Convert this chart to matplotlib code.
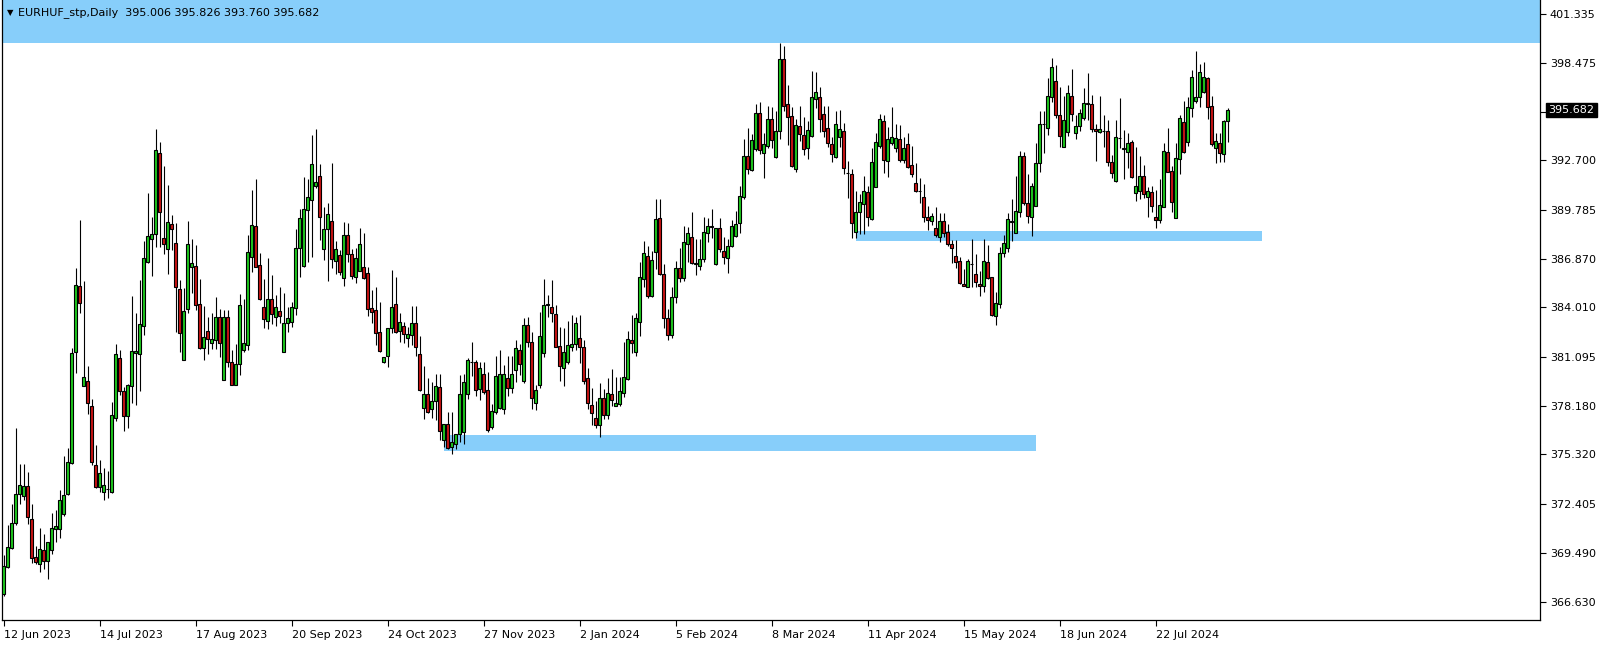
import numpy as np
import pandas as pd
import matplotlib
matplotlib.use("Agg")
import matplotlib.pyplot as plt
from matplotlib.patches import Rectangle

# ---------------- data ----------------
opens = [367.05,368.65,369.77,371.25,372.96,372.86,373.43,371.50,369.26,368.82,369.67,369.04,369.65,370.91,370.89,371.78,372.96,374.79,381.39,385.27,
379.38,379.66,378.18,374.69,373.41,373.12,373.26,373.08,377.45,381.00,379.09,377.60,379.39,381.30,381.24,382.92,386.72,388.04,388.33,393.12,
388.10,387.45,388.92,387.80,385.08,380.91,383.90,386.38,386.46,384.19,381.60,382.62,381.89,382.09,383.46,379.72,383.42,380.81,379.43,380.64,
381.50,381.79,386.97,388.83,386.52,384.02,383.23,384.49,383.47,383.82,381.40,383.07,383.13,383.96,387.51,386.48,389.77,390.36,391.19,391.80,
387.45,388.63,389.12,386.78,387.11,385.77,388.29,387.15,385.83,386.18,386.42,386.03,383.96,383.86,382.54,380.77,381.14,382.78,384.19,382.62,
382.93,382.19,382.38,383.07,381.24,378.05,378.90,377.99,378.48,379.29,376.18,377.12,375.78,375.92,376.51,376.67,378.87,380.79,380.76,379.17,
380.05,379.13,376.92,377.85,378.05,377.99,379.82,379.23,380.31,381.49,379.66,382.97,381.99,378.34,379.42,381.29,384.18,384.05,383.60,381.73,
380.41,380.80,381.69,381.83,382.18,381.65,379.82,378.24,377.45,377.06,378.64,377.65,378.87,378.20,378.28,378.93,379.76,382.08,381.39,383.17,
385.67,387.07,384.70,387.26,389.27,385.96,383.36,382.40,384.60,386.33,385.73,387.76,388.16,386.56,386.48,386.86,388.39,388.78,386.56,388.69,
387.37,386.95,387.66,388.26,388.98,390.52,392.96,392.13,393.38,395.49,393.12,393.55,395.13,392.89,394.46,398.69,396.01,395.33,392.19,394.73,
394.20,393.45,394.16,396.33,396.47,395.42,394.60,393.65,392.89,394.10,394.44,391.96,391.88,388.49,389.67,390.10,390.81,389.24,391.11,393.57,
395.05,392.68,393.75,393.41,393.95,392.72,393.65,392.43,391.34,390.88,390.56,389.37,389.14,388.69,388.15,389.12,388.45,387.76,387.05,386.75,
385.39,385.24,386.57,385.99,385.39,385.30,386.68,385.79,383.50,384.20,387.20,387.50,389.07,388.43,389.67,392.96,390.16,389.34,390.03,392.53,
394.84,394.60,396.43,397.39,395.38,393.51,394.40,396.51,394.30,394.75,395.22,396.06,396.01,394.54,394.40,394.43,394.44,392.59,391.48,394.03,
393.40,393.18,393.77,390.76,390.90,391.78,390.56,390.85,389.34,389.18,389.97,393.18,392.07,389.32,392.77,394.99,393.81,395.82,396.23,396.47,
396.72,397.55,395.91,393.45,393.71,393.06,395.006]
highs = [369.38,371.15,372.39,376.90,374.75,374.75,374.30,372.41,369.91,370.95,370.60,370.12,371.84,372.03,373.20,375.23,375.72,381.63,386.36,389.17,
385.57,380.55,378.58,375.88,374.99,374.50,374.34,378.40,381.85,381.50,379.30,379.47,384.71,383.66,385.63,387.94,390.80,389.38,394.56,393.77,
392.37,391.25,389.48,388.98,385.63,385.18,389.12,388.06,387.70,385.69,384.10,383.47,383.66,384.61,383.90,383.86,383.86,381.50,381.85,384.81,
384.51,388.29,390.95,391.58,387.21,385.67,386.91,385.93,384.75,385.20,384.85,384.02,384.31,388.65,389.81,391.74,391.58,394.20,394.54,392.47,
389.97,390.16,392.57,387.94,387.41,389.04,388.98,387.47,387.50,388.69,388.39,386.38,385.04,385.20,384.31,381.06,382.78,386.22,385.83,383.66,
383.17,382.87,384.12,384.12,382.32,380.55,379.82,379.58,380.06,380.06,377.10,377.85,377.81,376.51,380.01,380.07,381.00,381.98,380.90,380.80,
380.80,380.21,378.28,381.14,381.49,380.61,381.14,381.14,382.08,381.83,383.36,383.46,382.58,379.42,383.72,385.67,384.74,385.63,384.15,382.87,
382.81,383.21,383.56,383.46,383.56,382.08,380.41,379.23,378.50,379.52,379.17,379.82,380.35,379.88,379.92,381.95,382.64,383.56,383.70,386.71,
387.93,387.66,387.36,390.42,390.42,386.58,383.90,385.20,386.77,387.51,388.83,388.79,389.63,388.04,388.04,389.34,389.28,389.81,388.69,389.28,
388.16,388.04,389.18,389.73,391.19,393.97,394.60,394.26,396.02,396.13,394.30,395.92,395.84,395.64,399.62,399.46,397.16,395.88,395.15,395.92,
395.29,395.03,397.98,397.91,397.06,395.92,395.92,394.10,395.62,395.68,394.93,392.66,392.17,390.89,390.71,391.78,391.19,393.41,394.30,395.45,
395.38,394.65,395.84,394.85,394.79,394.10,394.30,393.55,392.53,391.64,391.29,390.02,389.57,389.93,389.57,389.57,388.94,388.00,388.00,387.01,
386.28,386.85,388.04,387.17,386.18,388.04,387.70,385.79,384.90,387.60,388.29,389.57,390.40,391.78,393.28,393.22,391.90,391.35,393.71,395.64,
395.64,397.55,398.77,398.34,397.02,396.53,397.16,398.10,395.38,395.72,396.96,397.85,396.57,394.86,396.51,395.38,395.09,393.02,395.09,396.37,
394.50,394.34,393.91,393.51,392.96,392.43,391.15,391.19,390.95,391.60,393.71,394.64,392.37,393.75,395.38,396.21,396.47,398.04,399.17,398.40,
398.50,397.65,396.51,394.30,394.30,395.09,395.826]
lows = [366.95,368.60,369.75,371.15,372.37,372.63,371.19,368.88,368.85,368.39,368.55,367.94,369.43,370.16,370.36,371.70,372.90,374.75,380.15,383.70,
379.35,377.69,374.69,373.35,373.12,372.63,372.76,373.05,377.30,378.84,376.70,376.90,378.34,378.25,379.09,382.38,386.62,385.89,387.60,387.60,
387.15,385.97,387.41,382.58,381.40,380.90,383.66,384.89,383.86,381.54,380.91,381.24,381.54,381.54,381.10,379.70,380.51,379.40,379.40,380.02,
381.40,381.50,386.13,386.40,384.45,382.78,382.72,383.03,382.92,383.07,381.40,382.58,382.84,383.57,385.83,386.40,386.72,386.97,391.05,388.00,
386.82,385.59,386.32,385.97,385.93,385.30,386.72,385.69,385.44,386.15,385.70,383.51,383.07,381.79,381.40,380.75,380.47,382.48,382.48,381.99,
381.93,381.65,381.79,381.14,379.10,377.40,377.75,377.46,377.36,376.18,375.78,375.64,375.35,375.64,376.04,375.94,378.60,379.96,378.79,378.54,
378.87,376.67,376.80,377.69,378.00,377.71,378.77,378.97,379.62,380.01,379.52,381.65,377.99,377.95,379.23,381.10,383.46,383.17,381.65,379.66,
379.38,380.65,381.45,381.49,380.74,379.48,377.99,377.06,376.86,376.37,377.40,377.40,378.18,378.18,378.20,378.73,379.72,381.30,381.14,382.32,
385.24,384.59,384.65,386.26,385.93,382.81,382.10,382.20,384.30,385.50,385.60,386.72,386.58,385.93,386.23,386.72,387.90,388.09,386.52,387.31,
386.56,386.07,387.57,388.20,388.43,390.40,391.90,392.09,393.28,393.06,391.64,393.41,393.45,392.85,393.97,395.62,393.61,392.29,392.00,393.87,
393.02,392.78,394.10,395.78,394.40,394.10,393.48,392.63,392.85,393.51,391.88,390.46,388.13,388.13,388.33,388.33,388.85,389.18,391.10,393.45,
391.94,391.74,393.61,393.22,392.63,392.57,392.23,391.74,390.85,390.16,389.08,388.59,388.88,388.19,387.90,388.19,387.66,386.66,386.36,385.39,
385.28,385.20,385.24,385.24,384.71,384.94,385.69,383.50,382.97,384.00,387.00,387.30,387.96,388.40,389.37,390.06,389.02,388.25,390.00,391.99,
393.16,394.20,396.13,395.22,393.47,393.50,394.15,395.05,393.94,394.44,395.09,395.09,394.40,392.68,394.34,393.51,392.37,391.64,391.45,393.41,
391.58,392.23,391.65,390.32,390.40,390.46,389.34,389.67,388.69,388.98,389.93,391.99,389.67,389.30,391.90,393.12,393.55,395.29,396.07,395.88,
396.70,395.15,393.55,392.57,392.63,392.63,393.760]
closes = [368.73,369.83,371.25,372.96,373.49,373.43,371.64,369.18,368.98,369.71,369.04,370.12,370.95,371.09,372.61,372.90,374.85,381.29,385.33,384.25,
379.88,378.34,374.89,373.41,374.20,373.49,373.30,377.65,381.24,379.09,377.60,379.40,381.44,381.44,383.01,386.91,388.23,388.33,393.32,389.67,
387.74,389.04,388.63,385.20,382.48,383.82,387.74,386.62,384.16,381.63,382.28,382.13,382.15,383.42,381.89,383.46,380.81,379.43,380.64,384.16,
381.89,387.27,388.88,386.42,384.51,383.33,384.49,383.60,384.02,383.53,383.07,383.37,384.02,387.51,389.28,389.81,390.56,392.47,391.45,389.34,
388.63,389.51,386.86,387.45,386.13,388.29,387.15,385.89,386.91,387.76,385.73,383.90,383.72,382.48,381.46,381.06,382.78,384.06,382.54,383.13,
382.42,382.42,383.07,381.69,379.13,378.90,377.81,378.50,379.39,376.73,377.10,375.72,376.04,376.51,378.89,379.58,380.90,380.81,379.13,380.41,
379.03,376.76,377.89,379.98,380.05,380.05,379.23,380.05,381.59,380.65,382.97,381.95,378.64,379.13,382.32,384.15,384.20,383.70,381.69,380.57,
381.35,381.79,381.85,383.07,381.65,379.68,378.38,377.79,377.06,378.64,377.65,378.93,378.54,378.38,379.07,379.88,382.12,381.89,383.36,385.79,
387.21,384.68,386.81,389.22,385.98,383.36,382.40,384.60,386.36,385.77,387.86,388.39,386.66,386.66,386.86,388.45,388.85,388.80,388.69,387.44,
386.97,387.66,388.85,388.92,390.60,392.98,392.17,393.91,395.49,393.32,393.65,395.13,393.91,394.44,398.69,395.94,395.29,392.37,394.79,394.26,
393.37,394.50,396.43,396.72,395.15,394.46,393.71,393.08,394.83,394.54,392.23,391.98,388.98,389.67,390.26,390.89,389.38,392.59,393.77,395.13,
392.73,393.95,394.06,394.00,392.72,393.41,392.33,391.90,390.91,390.90,389.34,389.18,389.41,388.29,389.12,388.43,387.74,387.54,386.68,385.47,
385.30,386.75,386.59,385.53,385.30,386.75,385.73,383.56,384.30,387.20,387.84,389.21,389.09,389.73,392.96,390.20,389.44,391.19,392.53,394.85,
394.86,396.51,398.20,395.38,394.16,395.09,396.66,395.42,394.75,395.48,396.07,396.07,394.56,394.44,394.54,394.45,392.59,391.94,394.06,394.05,
393.42,393.71,391.70,391.19,391.78,390.71,390.89,390.03,389.18,390.07,393.26,392.03,390.26,392.86,395.19,393.18,395.84,397.61,396.43,397.91,
397.61,395.88,393.67,393.85,393.12,395.03,395.682]

skip_days = ["2023-12-25", "2024-01-01"]
date_labels = ["12 Jun 2023", "14 Jul 2023", "17 Aug 2023", "20 Sep 2023", "24 Oct 2023",
               "27 Nov 2023", "2 Jan 2024", "5 Feb 2024", "8 Mar 2024", "11 Apr 2024",
               "15 May 2024", "18 Jun 2024", "22 Jul 2024"]
price_ticks = [401.335, 398.475, 392.700, 389.785, 386.870, 384.010, 381.095,
               378.180, 375.320, 372.405, 369.490, 366.630]
price_tick_hidden = [395.590]
last_price = 395.682
header = "EURHUF_stp,Daily  395.006 395.826 393.760 395.682"

# support / resistance zones (bar index start, bar index end, low, high)
zone_start = [-5, 110, 213]
zone_end = [400, 258, 314.6]
zone_low = [399.62, 375.50, 387.95]
zone_high = [405.0, 376.45, 388.53]

# ---------------- figure ----------------
W, H = 1604, 645
fig = plt.figure(figsize=(W / 100, H / 100), dpi=100)
fig.patch.set_facecolor("white")
left_px, right_px, top_px, bot_px = 2, 1540, 0, 620
ax = fig.add_axes([left_px / W, 1 - bot_px / H, (right_px - left_px) / W, (bot_px - top_px) / H])
ax.set_facecolor("white")

n = len(opens)
days = pd.bdate_range("2023-06-12", periods=n + 10)
days = days[~days.isin(pd.to_datetime(skip_days))][:n]
x = np.arange(n)

ppx = 16.92  # pixels per price unit
y_top = 401.335 + (14.3 - top_px) / ppx
y_bot = 401.335 - (bot_px - 14.3) / ppx
x_left = (left_px - 3.5) / 4
x_right = (right_px - 3.5) / 4
ax.set_xlim(x_left, x_right)
ax.set_ylim(y_bot, y_top)

zone_color = "#87CEFA"
for s, e, lo, hi in zip(zone_start, zone_end, zone_low, zone_high):
    ax.add_patch(Rectangle((s, lo), e - s, hi - lo, facecolor=zone_color, edgecolor="none", zorder=1))

o = np.array(opens); h = np.array(highs); l = np.array(lows); c = np.array(closes)
up = c >= o
green = "#1EC81E"
red = "#C81414"
ax.vlines(x, l, h, color="black", linewidth=0.8, zorder=2)
body_lo = np.minimum(o, c)
body_h = np.maximum(np.abs(c - o), 0.001)
ax.bar(x[up], body_h[up], bottom=body_lo[up], width=0.55, color=green,
       edgecolor="black", linewidth=0.8, zorder=3)
ax.bar(x[~up], body_h[~up], bottom=body_lo[~up], width=0.55, color=red,
       edgecolor="black", linewidth=0.8, zorder=3)

# axes styling
for sp in ax.spines.values():
    sp.set_color("black")
    sp.set_linewidth(0.9)
ax.spines["top"].set_visible(False)
ax.yaxis.tick_right()
ax.set_yticks(price_ticks + price_tick_hidden)
ax.set_yticklabels([f"{v:.3f}" for v in price_ticks] + [""], fontsize=8, color="black")
ax.tick_params(axis="y", direction="out", length=4, width=0.8, pad=3)

pos = [int(np.where(days == pd.to_datetime(d, format="%d %b %Y"))[0][0]) for d in date_labels]
ax.set_xticks(pos)
ax.set_xticklabels(date_labels, fontsize=8, ha="left")
ax.tick_params(axis="x", direction="out", length=4, width=0.8, pad=3)

# last price marker
ax.annotate(f"{last_price:.3f}", xy=(1.0, last_price), xycoords=("axes fraction", "data"),
            xytext=(6, 0), textcoords="offset points", fontsize=8, color="white",
            va="center", ha="left",
            bbox=dict(boxstyle="square,pad=0.2", facecolor="black", edgecolor="black"))

fig.text(7 / W, 1 - 13 / H, "\u25BC", fontsize=6, va="center", ha="left", color="black")
fig.text(18 / W, 1 - 13 / H, header, fontsize=8, va="center", ha="left", color="black")

fig.savefig("out.png", dpi=100, facecolor="white")
